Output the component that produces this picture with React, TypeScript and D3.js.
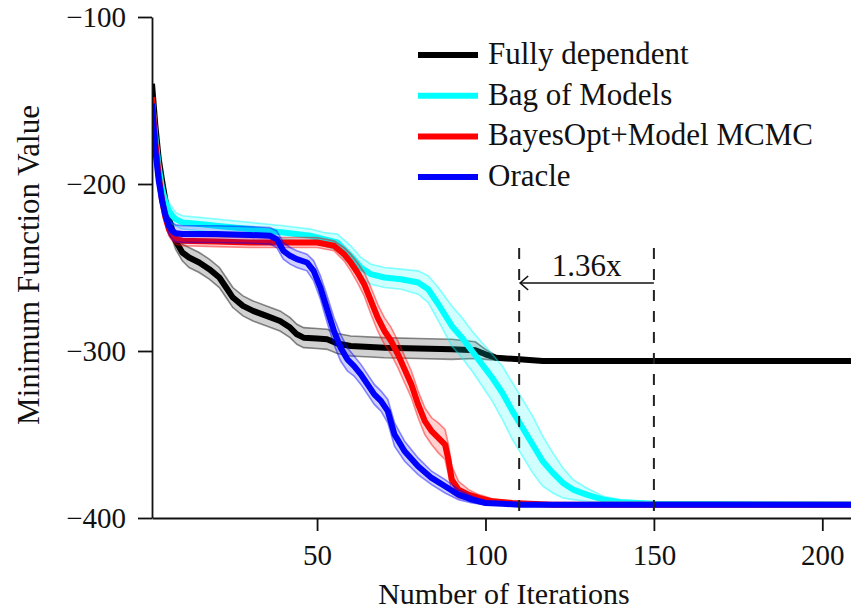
import React, { useEffect, useRef } from 'react';
import * as d3 from 'd3';

// legend / series
const seriesNames = ['Fully dependent', 'Bag of Models', 'BayesOpt+Model MCMC', 'Oracle'];
const seriesColors = ['#000000', '#00ffff', '#ff0000', '#0000ff'];

// Fully dependent
const fullIter = [1, 2, 3, 4, 5, 6, 7, 8, 10, 12, 15, 18, 21, 23, 25, 28, 31, 35, 39, 42, 44, 46, 50, 53, 56, 60, 70, 80, 90, 97, 100, 103, 110, 117, 120, 210];
const fullVal = [-140, -165, -185, -198, -210, -220, -228, -234, -241, -244, -247, -251, -256, -262, -268, -273, -276, -279, -282, -286, -290, -292, -292.5, -293, -295.5, -297, -298, -298.5, -299, -299.5, -302, -304, -305, -306, -306, -306];
const fullSpread = [2, 3, 4, 4, 5, 5, 5, 5, 5, 6, 6, 6, 6, 6, 6, 6, 6, 6, 6, 6, 6, 6, 6, 6, 6, 6, 6, 6, 6, 5, 3, 1.5, 0.5, 0.5, 0.5, 0.5];

// Bag of Models
const bagIter = [1, 2, 3, 4, 5, 6, 7, 8, 10, 15, 20, 30, 40, 48, 52, 56, 60, 63, 66, 70, 75, 80, 83, 86, 90, 93, 96, 99, 102, 105, 108, 111, 114, 117, 120, 123, 126, 130, 135, 140, 150, 210];
const bagVal = [-150, -172, -190, -203, -211, -216, -219, -221, -223, -224, -225, -227, -229, -231, -233, -235, -243, -250, -254, -256, -257, -259, -263, -272, -285, -292, -300, -308, -316, -325, -336, -346, -356, -366, -373, -379, -383, -386, -389, -390.5, -391.5, -392];
const bagSpread = [3, 4, 5, 5, 5, 5, 5, 4, 4, 4, 4, 4, 4, 4, 4, 5, 6, 6, 6, 6, 6, 7, 8, 10, 12, 12, 12, 13, 14, 16, 17, 17, 17, 15, 12, 9, 6, 4, 2, 1.5, 1, 1];

// BayesOpt+Model MCMC
const mcmcIter = [1, 2, 3, 4, 5, 6, 7, 8, 10, 20, 30, 40, 50, 55, 58, 60, 62, 64, 66, 68, 70, 72, 74, 76, 78, 80, 82, 84, 86, 88, 89, 90, 92, 95, 98, 102, 108, 120, 210];
const mcmcVal = [-148, -175, -195, -210, -220, -227, -231, -233, -234, -234.5, -235, -235, -235, -237, -242, -247, -253, -260, -270, -280, -288, -294, -302, -311, -320, -332, -342, -348, -352, -356, -365, -377, -383, -386, -388, -390, -391, -392, -392];
const mcmcSpread = [3, 4, 4, 4, 4, 4, 3, 3, 3, 3, 3, 3, 3, 3, 4, 5, 6, 7, 8, 8, 8, 8, 8, 8, 8, 8, 8, 8, 9, 9, 9, 8, 5, 3, 2, 1.5, 1, 0.5, 0.5];

// Oracle
const oracleIter = [1, 2, 3, 4, 5, 6, 7, 8, 10, 20, 30, 36, 38, 40, 42, 44, 47, 49, 51, 53, 55, 57, 59, 61, 63, 65, 67, 69, 71, 73, 76, 80, 84, 88, 92, 96, 100, 105, 110, 210];
const oracleVal = [-152, -180, -198, -210, -219, -225, -228, -229.5, -230, -230, -230.5, -231, -233, -240, -243, -245, -247, -252, -262, -275, -288, -298, -305, -309, -314, -320, -326, -330, -336, -350, -360, -369, -376, -381, -386, -389, -391, -391.5, -392, -392];
const oracleSpread = [3, 4, 4, 4, 4, 5, 5, 5, 5, 5, 5, 5, 5, 5, 5, 5, 5, 6, 7, 8, 8, 8, 7, 6, 6, 6, 6, 6, 7, 7, 6, 5, 4, 4, 3, 2, 1, 0.5, 0.5, 0.5];

const xTicks = [50, 100, 150, 200];
const yTicks = [-100, -200, -300, -400];
const speedupFrom = 150;
const speedupTo = 110;
const speedupLabel = '1.36x';

const FONT = "'Liberation Serif', 'Times New Roman', serif";

function Chart() {
  const svgRef = useRef<SVGSVGElement>(null);

  useEffect(() => {
    const svg = d3.select(svgRef.current);
    svg.selectAll('*').remove();

    const width = 851;
    const left = 152;
    const top = 17;
    const bottom = 518;

    const x = d3.scaleLinear().domain([1, 210]).range([left, 856]);
    const y = d3.scaleLinear().domain([-400, -100]).range([bottom, top]);

    const series = [
      { iter: fullIter, val: fullVal, spread: fullSpread },
      { iter: bagIter, val: bagVal, spread: bagSpread },
      { iter: mcmcIter, val: mcmcVal, spread: mcmcSpread },
      { iter: oracleIter, val: oracleVal, spread: oracleSpread },
    ];

    svg.append('defs').append('clipPath').attr('id', 'plot-clip')
      .append('rect').attr('x', left).attr('y', top - 5).attr('width', width - left).attr('height', bottom - top + 5);

    const plot = svg.append('g').attr('clip-path', 'url(#plot-clip)');

    series.forEach((s, k) => {
      const idx = d3.range(s.iter.length);
      const color = seriesColors[k];
      const g = plot.append('g');

      const area = d3.area<number>()
        .x((i) => x(s.iter[i]))
        .y0((i) => y(s.val[i] - s.spread[i]))
        .y1((i) => y(s.val[i] + s.spread[i]));
      g.append('path').attr('d', area(idx)).attr('fill', color).attr('fill-opacity', k === 0 ? 0.18 : 0.18);

      [-1, 1].forEach((sign) => {
        const edge = d3.line<number>()
          .x((i) => x(s.iter[i]))
          .y((i) => y(s.val[i] + sign * s.spread[i]));
        g.append('path').attr('d', edge(idx)).attr('fill', 'none')
          .attr('stroke', color).attr('stroke-opacity', 0.45).attr('stroke-width', 1.6);
      });

      const mean = d3.line<number>()
        .x((i) => x(s.iter[i]))
        .y((i) => y(s.val[i]));
      g.append('path').attr('d', mean(idx)).attr('fill', 'none')
        .attr('stroke', color).attr('stroke-width', 6).attr('stroke-linejoin', 'round');
    });

    // axes
    const yAxis = svg.append('g').attr('transform', `translate(${left},0)`)
      .call(d3.axisLeft(y).tickValues(yTicks).tickSize(14).tickSizeOuter(0).tickPadding(12)
        .tickFormat((d) => `\u2212${Math.abs(d as number)}`));
    const xAxis = svg.append('g').attr('transform', `translate(0,${bottom})`)
      .call(d3.axisBottom(x).tickValues(xTicks).tickSize(13).tickSizeOuter(0).tickPadding(13));

    [yAxis, xAxis].forEach((a) => {
      a.select('.domain').attr('stroke', '#111').attr('stroke-width', 1.8);
      a.selectAll('.tick line').attr('stroke', '#111').attr('stroke-width', 1.8);
      a.selectAll('.tick text').attr('font-family', FONT).attr('font-size', 29).attr('fill', '#111');
    });

    // axis titles
    svg.append('text').attr('x', 504).attr('y', 604).attr('text-anchor', 'middle')
      .attr('font-family', FONT).attr('font-size', 30).attr('fill', '#111')
      .text('Number of Iterations');
    svg.append('text').attr('transform', 'translate(39,265) rotate(-90)').attr('text-anchor', 'middle')
      .attr('font-family', FONT).attr('font-size', 31).attr('fill', '#111')
      .text('Minimum Function Value');

    // speed-up annotation
    const x0 = x(speedupTo);
    const x1 = x(speedupFrom);
    [x0, x1].forEach((xx) => {
      svg.append('line').attr('x1', xx).attr('x2', xx).attr('y1', 248).attr('y2', bottom)
        .attr('stroke', '#222').attr('stroke-width', 2).attr('stroke-dasharray', '11,10');
    });
    const ay = 283;
    svg.append('line').attr('x1', x1).attr('x2', x0 + 1).attr('y1', ay).attr('y2', ay)
      .attr('stroke', '#111').attr('stroke-width', 1.6);
    svg.append('path').attr('d', `M${x0 + 9},${ay - 7} L${x0 + 1},${ay} L${x0 + 9},${ay + 7}`)
      .attr('fill', 'none').attr('stroke', '#111').attr('stroke-width', 1.6);
    svg.append('text').attr('x', (x0 + x1) / 2).attr('y', 276).attr('text-anchor', 'middle')
      .attr('font-family', FONT).attr('font-size', 31).attr('fill', '#111')
      .text(speedupLabel);

    // legend
    const legend = svg.append('g');
    seriesNames.forEach((name, k) => {
      const ly = 55 + k * 40.7;
      legend.append('line').attr('x1', 418).attr('x2', 478).attr('y1', ly).attr('y2', ly)
        .attr('stroke', seriesColors[k]).attr('stroke-width', 6);
      legend.append('text').attr('x', 488).attr('y', ly + 9)
        .attr('font-family', FONT).attr('font-size', 31).attr('fill', '#111')
        .text(name);
    });
  }, []);

  return (
    <svg ref={svgRef} width={851} height={614}
      style={{ position: 'absolute', left: 0, top: 0, background: '#fff' }} />
  );
}

export default function App() {
  return <Chart />;
}
